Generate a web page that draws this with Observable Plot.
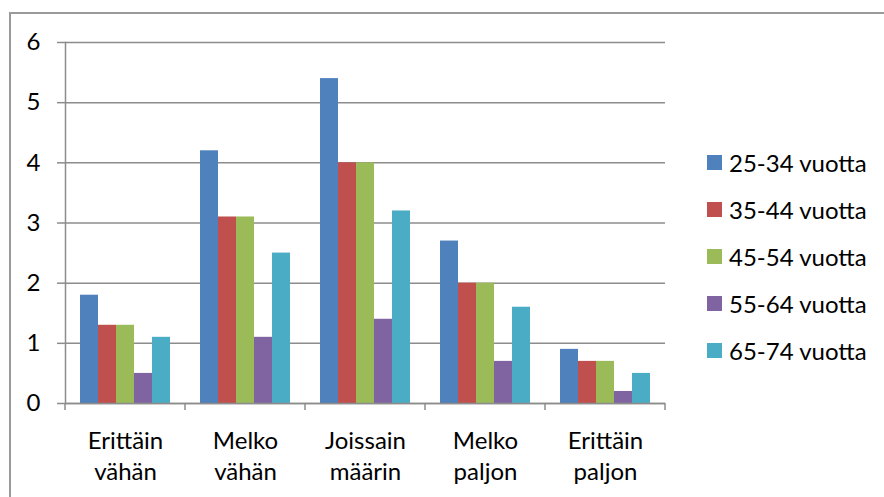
<!DOCTYPE html>
<html>
<head>
<meta charset="utf-8">
<script src="https://cdn.jsdelivr.net/npm/d3@7"></script>
<script src="https://cdn.jsdelivr.net/npm/@observablehq/plot@0.6"></script>
<style>
  html, body { margin: 0; padding: 0; background: #fff; }
  #figure { position: relative; width: 884px; height: 497px; overflow: hidden; font-family: Lato, "Open Sans", sans-serif; }
  #border { position: absolute; left: 9px; top: 12px; width: 1000px; height: 1000px; border: 2px solid #9a9a9a; box-sizing: border-box; }
  #chart { position: absolute; left: 0; top: 0; }
  #legend { position: absolute; left: 707px; top: 145px; display: flex; flex-direction: column; gap: 13px; }
  .item { display: flex; align-items: center; height: 34px; font-size: 24px; color: #000; }
  .swatch { width: 15px; height: 15px; margin-right: 7px; flex: none; }
</style>
</head>
<body>
<div id="figure">
  <div id="border"></div>
  <div id="chart"></div>
  <div id="legend"></div>
</div>
<script>
// Answer categories along the x axis (two-line labels)
const categories = ["Erittäin vähän", "Melko vähän", "Joissain määrin", "Melko paljon", "Erittäin paljon"];
const categoryLabels = ["Erittäin\nvähän", "Melko\nvähän", "Joissain\nmäärin", "Melko\npaljon", "Erittäin\npaljon"];

// Age groups (series)
const series = ["25-34 vuotta", "35-44 vuotta", "45-54 vuotta", "55-64 vuotta", "65-74 vuotta"];
const colors = ["#4f81bd", "#c0504d", "#9bbb59", "#8064a2", "#4bacc6"];

// Values per age group, one per category
const age25_34 = [1.8, 4.2, 5.4, 2.7, 0.9];
const age35_44 = [1.3, 3.1, 4.0, 2.0, 0.7];
const age45_54 = [1.3, 3.1, 4.0, 2.0, 0.7];
const age55_64 = [0.5, 1.1, 1.4, 0.7, 0.2];
const age65_74 = [1.1, 2.5, 3.2, 1.6, 0.5];

const yTicks = [0, 1, 2, 3, 4, 5, 6];

const valuesBySeries = [age25_34, age35_44, age45_54, age55_64, age65_74];
const rows = [];
categories.forEach((cat, i) => {
  series.forEach((s, j) => rows.push({cat, series: s, value: valuesBySeries[j][i]}));
});
const labelOf = new Map(categories.map((c, i) => [c, categoryLabels[i]]));

const gridColor = "#8c8c8c";

const chart = Plot.plot({
  width: 884,
  height: 497,
  marginLeft: 65,
  marginRight: 219,
  marginTop: 42,
  marginBottom: 94,
  style: {fontFamily: "Lato, 'Open Sans', sans-serif", fontSize: "24px", color: "#000", background: "transparent"},
  fx: {domain: categories, padding: 0},
  x: {domain: series, paddingInner: 0, paddingOuter: 0.76, axis: null},
  y: {domain: [0, 6]},
  color: {domain: series, range: colors},
  marks: [
    Plot.gridY(yTicks, {stroke: gridColor, strokeOpacity: 1, strokeWidth: 1.5}),
    Plot.barY(rows, {fx: "cat", x: "series", y: "value", fill: "series", insetLeft: 0, insetRight: 0}),
    Plot.ruleY([0], {stroke: gridColor, strokeWidth: 1.5}),
    Plot.axisY(yTicks, {tickSize: 8, tickPadding: 17, stroke: gridColor, strokeWidth: 1.5, fontSize: 24, label: null, tickFormat: d => String(d)}),
    Plot.frame({anchor: "left", facetAnchor: "left", stroke: gridColor, strokeWidth: 1.5}),
    Plot.axisFx({anchor: "bottom", tickSize: 0, tickPadding: 23, fontSize: 24, lineHeight: 1.3, tickFormat: d => labelOf.get(d), label: null})
  ]
});
document.getElementById("chart").appendChild(chart);

// Category boundary tick marks below the x axis, placed from the fx band scale
const fx = chart.scale("fx");
const y0 = chart.scale("y").apply(0);
const bounds = fx.domain.map(d => fx.apply(d)).concat([fx.apply(fx.domain[fx.domain.length - 1]) + fx.bandwidth]);
d3.select(chart).append("g")
  .attr("stroke", gridColor)
  .attr("stroke-width", 1.5)
  .selectAll("line")
  .data(bounds)
  .join("line")
  .attr("x1", d => d).attr("x2", d => d)
  .attr("y1", y0).attr("y2", y0 + 7);

// Legend
const legend = d3.select("#legend");
series.forEach((s, i) => {
  const item = legend.append("div").attr("class", "item");
  item.append("div").attr("class", "swatch").style("background", colors[i]);
  item.append("span").text(s);
});
</script>
</body>
</html>
